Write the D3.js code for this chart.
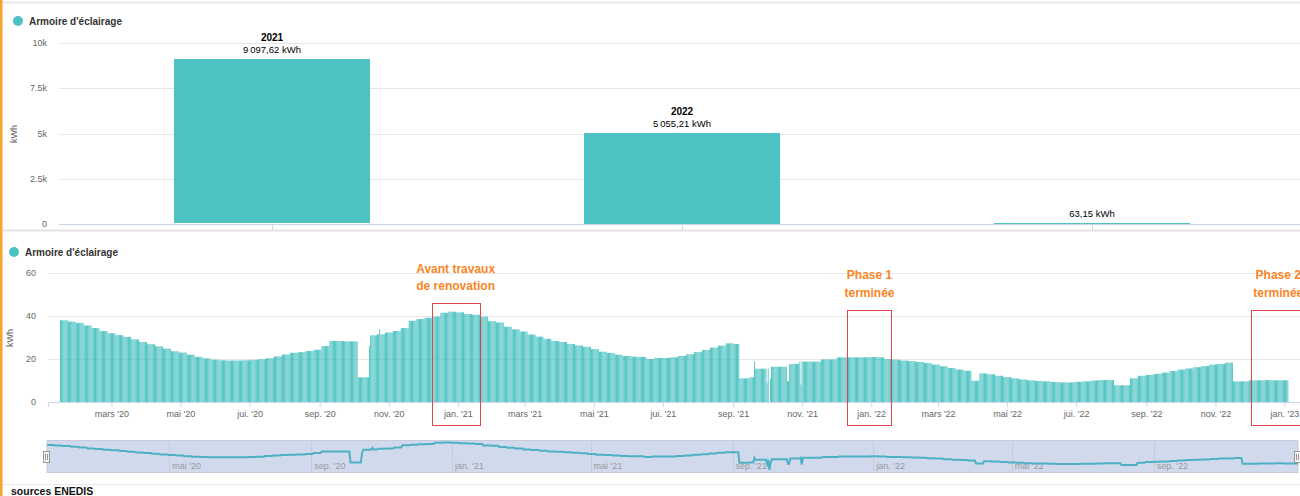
<!DOCTYPE html>
<html>
<head>
<meta charset="utf-8">
<script src="https://cdn.jsdelivr.net/npm/d3@7"></script>
<style>
body { margin: 0; background: #fff; }
svg { display: block; font-family: "Liberation Sans", Arial, sans-serif; }
</style>
</head>
<body>
<svg width="1300" height="496"></svg>
<script>
// yearly totals (top chart)
var years = ["2021", "2022", "2023"];
var yearLabels = ["2021", "2022", ""];
var yearTotals = [9097.62, 5055.21, 63.15];
var topTicks = [0, 2500, 5000, 7500, 10000];

// daily consumption (bottom chart), read week by week from 16 jan 2020
var firstDay = "2020-01-16";
var weekly = [
  38.0, 37.4, 36.8, 35.6, 34.4, 33.0, 32.0, 31.1, 30.3, 29.1,
  27.9, 26.9, 25.9, 24.8, 23.6, 23.0, 22.0, 21.0, 20.3, 19.7,
  19.4, 19.3, 19.3, 19.4, 19.6, 19.9, 20.4, 21.2, 22.1, 22.9,
  23.2, 23.7, 24.3, 26.0, 28.4, 28.3, 28.2, 28.2, 11.5, 31.0,
  31.5, 32.3, 33.0, 34.4, 37.8, 38.6, 39.2, 39.7, 41.5, 42.0,
  41.7, 40.9, 40.6, 39.7, 37.6, 37.0, 35.0, 33.8, 32.8, 31.4,
  30.4, 29.4, 28.4, 27.9, 27.0, 26.3, 25.7, 24.6, 23.4, 22.8,
  22.0, 21.4, 21.1, 21.0, 20.0, 20.5, 20.5, 20.8, 21.4, 22.2,
  23.2, 24.2, 25.3, 26.2, 27.3, 27.0, 11.0, 11.5, 15.5, 16.4,
  16.4, 16.4, 17.7, 18.8, 18.8, 18.8, 19.8, 19.8, 20.8, 20.8,
  20.8, 20.8, 20.9, 20.8, 20.0, 19.7, 19.3, 19.0, 18.6, 18.1,
  17.4, 16.6, 15.8, 15.1, 14.5, 9.9, 13.3, 12.9, 12.2, 11.6,
  11.0, 10.5, 10.1, 9.8, 9.6, 9.3, 9.1, 9.1, 9.4, 9.6,
  10.0, 10.2, 10.2, 7.8, 7.8, 11.0, 12.2, 12.6, 13.1, 13.7,
  14.4, 15.1, 15.6, 16.2, 16.7, 17.4, 17.7, 18.3, 9.6, 9.6,
  10.1, 10.1, 10.2, 10.1, 10.1
];
// single days that differ from their week [day index, kWh]
var dayFixes = [
  [263, 11.5], [264, 11.5], [265, 11.5], [273, 26], [282, 33.8],
  [600, 11], [601, 11], [613, 18.8], [614, 15.5], [615, 15.5],
  [623, 15.5], [624, 8.7], [625, 15.5], [626, 0], [627, 11],
  [642, 9.7], [643, 9.7], [651, 17.7], [652, 17.7], [653, 18.9], [654, 8.1]
];
var dayTicks = [0, 20, 40, 60];
var monthNames = ["jan.", "fév.", "mars", "avr.", "mai", "juin", "jui.", "août", "sep.", "oct.", "nov.", "déc."];

var notes = [
  {lines: ["Avant travaux", "de renovation"], from: "2020-12-09", to: "2021-01-20", top: 46},
  {lines: ["Phase 1", "terminée"], from: "2021-12-11", to: "2022-01-19", top: 43},
  {lines: ["Phase 2", "terminée"], from: "2022-12-02", to: "2023-01-20", top: 43}
];

var teal = "#4cc3c2";
var parse = d3.timeParse("%Y-%m-%d");
var fr = d3.formatLocale({decimal: ",", thousands: "\u202f", grouping: [3], currency: ["", " €"]});
var fmt = fr.format(",.2f");

var svg = d3.select("svg");

// frame
svg.append("rect").attr("x", 0).attr("y", 0).attr("width", 2.5).attr("height", 496).attr("fill", "#f4a52c");
svg.append("line").attr("x1", 3).attr("x2", 1300).attr("y1", 2.5).attr("y2", 2.5).attr("stroke", "#e8e8e8").attr("stroke-width", 2);
svg.append("line").attr("x1", 3).attr("x2", 1300).attr("y1", 230.5).attr("y2", 230.5).attr("stroke", "#e3e3e3").attr("stroke-width", 2);
svg.append("line").attr("x1", 3).attr("x2", 1300).attr("y1", 484.5).attr("y2", 484.5).attr("stroke", "#e8e8e8").attr("stroke-width", 1);

function legend(x, y) {
  svg.append("circle").attr("cx", x).attr("cy", y).attr("r", 5).attr("fill", teal);
  svg.append("text").attr("x", x + 11).attr("y", y + 4)
    .attr("font-size", 10).attr("font-weight", "bold").attr("fill", "#333")
    .text("Armoire d'éclairage");
}

/* ---------- top chart : yearly ---------- */
legend(18, 21);

var xBand = d3.scaleBand().domain(years).range([67, 1297]).paddingInner(0.522).paddingOuter(0.261);
var yTop = d3.scaleLinear().domain([0, 10000]).range([224, 43]);

svg.append("g").selectAll("line").data(topTicks.slice(1)).enter().append("line")
  .attr("x1", 59).attr("x2", 1300)
  .attr("y1", function(d) { return Math.round(yTop(d)) + 0.5; })
  .attr("y2", function(d) { return Math.round(yTop(d)) + 0.5; })
  .attr("stroke", "#e6e6e6");

svg.append("g").selectAll("text").data(topTicks).enter().append("text")
  .attr("x", 47).attr("y", function(d) { return yTop(d) + 3; })
  .attr("text-anchor", "end").attr("font-size", 9).attr("fill", "#666")
  .text(function(d) { return d === 0 ? "0" : (d / 1000) + "k"; });

svg.append("text").attr("transform", "translate(17,134) rotate(-90)")
  .attr("text-anchor", "middle").attr("font-size", 9).attr("fill", "#666").text("kWh");

svg.append("g").selectAll("rect").data(yearTotals).enter().append("rect")
  .attr("x", function(d, i) { return xBand(years[i]); })
  .attr("width", xBand.bandwidth())
  .attr("y", function(d) { return Math.round(yTop(d)); })
  .attr("height", function(d) { return Math.max(0, Math.floor(yTop(0) - yTop(d))); })
  .attr("fill", teal);

svg.append("line").attr("x1", 59).attr("x2", 1300).attr("y1", 224.5).attr("y2", 224.5).attr("stroke", "#ccd6eb");
svg.append("g").selectAll("line").data(years).enter().append("line")
  .attr("x1", function(d) { return Math.round(xBand(d) + xBand.bandwidth() / 2) + 0.5; })
  .attr("x2", function(d) { return Math.round(xBand(d) + xBand.bandwidth() / 2) + 0.5; })
  .attr("y1", 224).attr("y2", 230).attr("stroke", "#ccd6eb");

var lbl = svg.append("g").selectAll("g").data(yearTotals).enter().append("g");
lbl.append("text")
  .attr("x", function(d, i) { return xBand(years[i]) + xBand.bandwidth() / 2; })
  .attr("y", function(d) { return yTop(d) - 18; })
  .attr("text-anchor", "middle").attr("font-size", 10).attr("font-weight", "bold").attr("fill", "#000")
  .text(function(d, i) { return yearLabels[i]; });
lbl.append("text")
  .attr("x", function(d, i) { return xBand(years[i]) + xBand.bandwidth() / 2; })
  .attr("y", function(d) { return yTop(d) - 6; })
  .attr("text-anchor", "middle").attr("font-size", 9.5).attr("fill", "#000")
  .text(function(d) { return fmt(d) + " kWh"; });

/* ---------- bottom chart : daily ---------- */
legend(14, 252);

var start = parse(firstDay);
var days = [];
weekly.forEach(function(v, w) {
  for (var k = 0; k < 7; k++) days.push({date: d3.timeDay.offset(start, w * 7 + k), v: v});
});
dayFixes.forEach(function(f) { days[f[0]].v = f[1]; });

var x = d3.scaleTime().domain([new Date(2020, 0, 5), new Date(2023, 0, 20)]).range([48, 1306]);
var y = d3.scaleLinear().domain([0, 60]).range([402, 273]);
var monthFmt = function(d) { return monthNames[d.getMonth()] + " '" + String(d.getFullYear()).slice(2); };

svg.append("g").selectAll("line").data(dayTicks.slice(1)).enter().append("line")
  .attr("x1", 48).attr("x2", 1300)
  .attr("y1", function(d) { return Math.round(y(d)) + 0.5; })
  .attr("y2", function(d) { return Math.round(y(d)) + 0.5; })
  .attr("stroke", "#e6e6e6");

svg.append("g").selectAll("text").data(dayTicks).enter().append("text")
  .attr("x", 36).attr("y", function(d) { return y(d) + 3; })
  .attr("text-anchor", "end").attr("font-size", 9).attr("fill", "#666")
  .text(function(d) { return d; });

svg.append("text").attr("transform", "translate(13,338) rotate(-90)")
  .attr("text-anchor", "middle").attr("font-size", 9).attr("fill", "#666").text("kWh");

var bw = (x(d3.timeDay.offset(start, 1)) - x(start)) * 0.8;
svg.append("g").selectAll("rect").data(days).enter().append("rect")
  .attr("x", function(d) { return x(d.date) - bw / 2; })
  .attr("width", bw)
  .attr("y", function(d) { return y(d.v); })
  .attr("height", function(d) { return y(0) - y(d.v); })
  .attr("fill", "#45c0bf");

var xAxis = svg.append("g").attr("transform", "translate(0,402)")
  .call(d3.axisBottom(x).ticks(d3.timeMonth.every(2)).tickFormat(monthFmt).tickSizeOuter(0).tickSize(5).tickPadding(4));
xAxis.select(".domain").attr("stroke", "#ccd6eb");
xAxis.selectAll(".tick line").attr("stroke", "#ccd6eb");
xAxis.selectAll(".tick text").attr("font-size", 9).attr("fill", "#666").attr("font-family", null);

// annotations
var ann = svg.append("g").selectAll("g").data(notes).enter().append("g");
ann.append("rect")
  .attr("x", function(d) { return Math.round(x(parse(d.from))) + 0.5; })
  .attr("width", function(d) { return Math.round(x(parse(d.to)) - x(parse(d.from))); })
  .attr("y", function(d) { return Math.round(y(d.top)) + 0.5; })
  .attr("height", function(d) { return Math.round(y(0) + 23 - y(d.top)); })
  .attr("fill", "none").attr("stroke", "#e0474c");
ann.each(function(d) {
  var g = d3.select(this);
  var cx = (x(parse(d.from)) + x(parse(d.to))) / 2;
  d.lines.forEach(function(t, i) {
    g.append("text").attr("x", cx).attr("y", y(d.top) - 30.5 + i * 17.5)
      .attr("text-anchor", "middle").attr("font-size", 12).attr("font-weight", "bold").attr("fill", "#f98527")
      .text(t);
  });
});

/* ---------- navigator ---------- */
var end = days[days.length - 1].date;
var nx = d3.scaleTime().domain([start, end]).range([47, 1298]);
var ny = d3.scaleLinear().domain([0, d3.max(days, function(d) { return d.v; })]).range([470, 442.5]);

svg.append("rect").attr("x", 47).attr("y", 440.5).attr("width", 1251).attr("height", 32)
  .attr("fill", "#d1daed").attr("stroke", "#c5cbd8");

var navTicks = nx.ticks(d3.timeMonth.every(4)).filter(function(d) { return nx(d) < 1260; });
svg.append("g").selectAll("line").data(navTicks).enter().append("line")
  .attr("x1", function(d) { return Math.round(nx(d)) + 0.5; })
  .attr("x2", function(d) { return Math.round(nx(d)) + 0.5; })
  .attr("y1", 440).attr("y2", 472).attr("stroke", "#c4ccdf");
svg.append("g").selectAll("text").data(navTicks).enter().append("text")
  .attr("x", function(d) { return nx(d) + 3; }).attr("y", 469)
  .attr("font-size", 9).attr("fill", "#999")
  .text(monthFmt);

svg.append("path").datum(days)
  .attr("d", d3.line().x(function(d) { return nx(d.date); }).y(function(d) { return ny(d.v); }))
  .attr("fill", "none").attr("stroke", "#4eb0c3").attr("stroke-width", 2);

[47, 1298].forEach(function(hx) {
  svg.append("rect").attr("x", hx - 3.5).attr("y", 451.5).attr("width", 6).attr("height", 11)
    .attr("fill", "#f2f2f2").attr("stroke", "#999");
  svg.append("line").attr("x1", hx - 1.5).attr("x2", hx - 1.5).attr("y1", 454).attr("y2", 460).attr("stroke", "#999");
  svg.append("line").attr("x1", hx + 0.5).attr("x2", hx + 0.5).attr("y1", 454).attr("y2", 460).attr("stroke", "#999");
});

svg.append("text").attr("x", 11).attr("y", 495).attr("font-size", 10.5).attr("font-weight", "bold").attr("fill", "#111")
  .text("sources ENEDIS");
</script>
</body>
</html>
